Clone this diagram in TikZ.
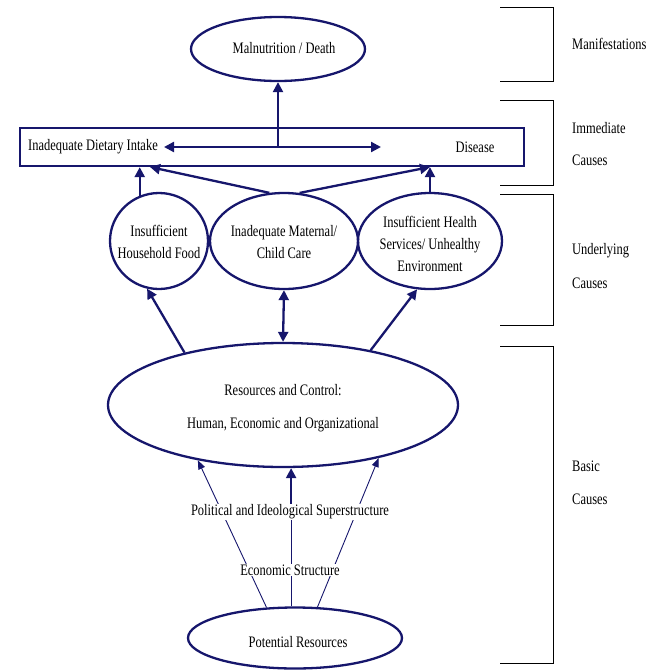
\documentclass[tikz,border=0pt]{standalone}
\usepackage{fontspec}
\setmainfont{Liberation Serif}[FakeStretch=0.78]
\usetikzlibrary{shapes.geometric,arrows.meta}
\definecolor{navy}{RGB}{22,22,108}
\begin{document}
\begin{tikzpicture}[x=1pt,y=-1pt,
  txt/.style={font=\fontsize{16}{22}\selectfont, inner sep=0pt, align=center, text=black},
  ell/.style={draw=navy, line width=2.3pt, ellipse, inner sep=0pt},
  thick arrow/.style={draw=navy, line width=2.3pt, -{Triangle[length=10pt,width=10pt]}},
  thin arrow/.style={draw=navy, line width=0.9pt, -{Triangle[length=9pt,width=7pt]}},
  bracket/.style={draw=black, line width=0.8pt},
  side/.style={font=\fontsize{16}{22}\selectfont, inner sep=0pt, anchor=west, text=black}]
\useasboundingbox (0,0) rectangle (664,670);

% ellipses
\node[ell, minimum width=174pt, minimum height=64pt] (top) at (278,49) {};
\node[txt] (toptxt) at (284,48) {Malnutrition / Death};

\node[draw=navy, line width=2.3pt, minimum width=504pt, minimum height=38pt, inner sep=0pt] (rect) at (272,147) {};
\node[txt, anchor=west] (diet) at (28,147) {Inadequate Dietary Intake};
\node[txt] (dis) at (475,147) {Disease};

\node[ell, minimum width=98pt, minimum height=96pt] (left) at (159,241) {};
\node[txt] (lefttxt) at (159,242) {Insufficient\\Household Food};
\node[ell, minimum width=148pt, minimum height=96pt] (mid) at (284,241) {};
\node[txt] (midtxt) at (284,242) {Inadequate Maternal/\\Child Care};
\node[ell, minimum width=144pt, minimum height=96pt] (right) at (430,241) {};
\node[txt] (righttxt) at (430,244) {Insufficient Health\\Services/ Unhealthy\\Environment};

\node[ell, minimum width=350pt, minimum height=124pt] (res) at (283,405) {};
\node[txt, font=\fontsize{16}{33}\selectfont] (restxt) at (283,408) {Resources and Control:\\Human, Economic and Organizational};

\node[ell, minimum width=214pt, minimum height=61pt] (pot) at (295,638) {};
\node[txt] (pottxt) at (298,642) {Potential Resources};

% connectors
\coordinate (hm) at (278,147);
\coordinate (hl) at (164,147);
\coordinate (hr) at (381,147);
\draw[thick arrow] (hm) -- (top.south);
\draw[draw=navy, line width=2.3pt, {Triangle[length=10pt,width=10pt]}-{Triangle[length=10pt,width=10pt]}] (hl) -- (hr);

\draw[thick arrow] (left.113) -- (left.113 |- rect.south);
\draw[thick arrow] (right.north) -- (right.north |- rect.south);
\coordinate (cl) at (150,167);
\coordinate (cr) at (430,167);
\draw[thick arrow] (mid.107) -- (cl);
\draw[thick arrow] (mid.72) -- (cr);

\draw[draw=navy, line width=2.3pt, {Triangle[length=10pt,width=10pt]}-{Triangle[length=10pt,width=10pt]}] (mid.south) -- (res.north);
\draw[thick arrow] (res.152) -- (left.256);
\draw[thick arrow] (res.32) -- (right.255);

\draw[thin arrow] (pot.133) -- (res.213);
\draw[thin arrow] (pot.54) -- (res.331);
\node[txt, fill=white, inner sep=1pt] (pol) at (290,512) {Political and Ideological Superstructure};
\draw[draw=navy, line width=0.9pt] (pot.97) -- (pot.97 |- pol.south);
\node[txt, fill=white, inner sep=1pt] (eco) at (290,570) {Economic Structure};
\draw[thick arrow] (pol.north -| pot.97) -- (pot.97 |- res.south);

% brackets
\draw[bracket] (500,7) -- (553,7) -- (553,81) -- (500,81);
\draw[bracket] (500,100) -- (553,100) -- (553,185) -- (500,185);
\draw[bracket] (500,194) -- (553,194) -- (553,325) -- (500,325);
\draw[bracket] (500,346) -- (553,346) -- (553,663) -- (500,663);

\node[side] (man) at (572,44) {Manifestations};
\node[side] (imm) at (572,128) {Immediate};
\node[side] (imc) at (572,160) {Causes};
\node[side] (und) at (572,251) {Underlying};
\node[side] (unc) at (572,283) {Causes};
\node[side] (bas) at (572,466) {Basic};
\node[side] (bac) at (572,499) {Causes};
\end{tikzpicture}
\end{document}
